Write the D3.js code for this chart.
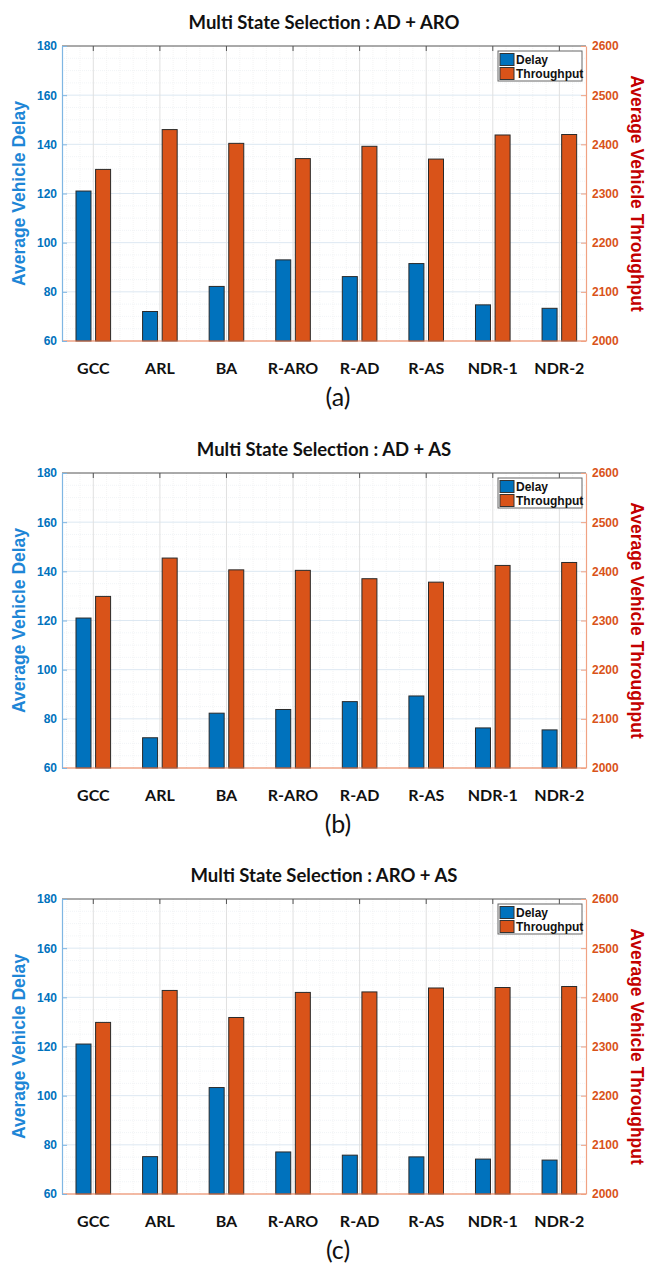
<!DOCTYPE html>
<html>
<head>
<meta charset="utf-8">
<script src="https://cdn.jsdelivr.net/npm/d3@7"></script>
<style>
  html, body { margin: 0; padding: 0; background: #fff; }
  svg { display: block; }
</style>
</head>
<body>
<div id="chart"></div>
<script>
// ---------------- DATA ----------------
const categories = ["GCC", "ARL", "BA", "R-ARO", "R-AD", "R-AS", "NDR-1", "NDR-2"];
const panelTitles = [
  "Multi State Selection : AD + ARO",
  "Multi State Selection : AD + AS",
  "Multi State Selection : ARO + AS"
];
const panelLabels = ["(a)", "(b)", "(c)"];
const seriesNames = ["Delay", "Throughput"];

const delayA = [121, 72, 82.2, 93, 86.2, 91.5, 74.7, 73.3];
const throughputA = [2349, 2430, 2402, 2371, 2396, 2370, 2419, 2420];

const delayB = [121, 72.3, 82.3, 83.8, 87, 89.3, 76.3, 75.5];
const throughputB = [2349, 2427, 2403, 2402, 2385, 2378, 2412, 2418];

const delayC = [121, 75.2, 103.3, 77.1, 75.8, 75.1, 74.2, 73.8];
const throughputC = [2349, 2414, 2359, 2410, 2411, 2419, 2420, 2422];

const leftTicks = [60, 80, 100, 120, 140, 160, 180];
const rightTicks = [2000, 2100, 2200, 2300, 2400, 2500, 2600];
const leftTitle = "Average Vehicle Delay";
const rightTitle = "Average Vehicle Throughput";

const panels = [
  { title: panelTitles[0], label: panelLabels[0], delay: delayA, thr: throughputA },
  { title: panelTitles[1], label: panelLabels[1], delay: delayB, thr: throughputB },
  { title: panelTitles[2], label: panelLabels[2], delay: delayC, thr: throughputC }
];

// ---------------- LAYOUT ----------------
const W = 648, H = 1264;
const panelOffsets = [0, 427, 853];
const plotL = 62, plotR = 586, plotT = 46, plotB = 341;
const blue = "#0072BD", orange = "#D95319";

const svg = d3.select("#chart").append("svg").attr("width", W).attr("height", H);

const x = d3.scaleLinear().domain([0.53, 8.4]).range([plotL, plotR]);
const yL = d3.scaleLinear().domain([60, 180]).range([plotB, plotT]);
const yR = d3.scaleLinear().domain([2000, 2600]).range([plotB, plotT]);
const barW = 15, barOff = 9.8;

panels.forEach((p, i) => {
  const g = svg.append("g").attr("transform", `translate(0,${panelOffsets[i]})`);

  g.append("rect").attr("x", plotL).attr("y", plotT)
    .attr("width", plotR - plotL).attr("height", plotB - plotT).attr("fill", "#fff");

  // minor grid
  const minorY = d3.range(60, 181, 5).filter(v => v % 20 !== 0);
  g.append("g").selectAll("line").data(minorY).join("line")
    .attr("x1", plotL).attr("x2", plotR)
    .attr("y1", d => yL(d)).attr("y2", d => yL(d))
    .attr("stroke", "#eef1f5").attr("stroke-width", 0.8).attr("stroke-dasharray", "1,1");
  const minorX = d3.range(0.6, 8.4, 0.2).filter(v => Math.abs(v - Math.round(v)) > 0.05);
  g.append("g").selectAll("line").data(minorX).join("line")
    .attr("x1", d => x(d)).attr("x2", d => x(d))
    .attr("y1", plotT).attr("y2", plotB)
    .attr("stroke", "#f0f0f0").attr("stroke-width", 0.8).attr("stroke-dasharray", "1,1");

  // major grid
  g.append("g").selectAll("line").data(leftTicks.slice(1, -1)).join("line")
    .attr("x1", plotL).attr("x2", plotR)
    .attr("y1", d => yL(d)).attr("y2", d => yL(d))
    .attr("stroke", "#dde8f2").attr("stroke-width", 1);
  g.append("g").selectAll("line").data(categories).join("line")
    .attr("x1", (d, j) => x(j + 1)).attr("x2", (d, j) => x(j + 1))
    .attr("y1", plotT).attr("y2", plotB)
    .attr("stroke", "#e0e0e0").attr("stroke-width", 1);

  // bars
  g.append("g").selectAll("rect").data(p.delay).join("rect")
    .attr("x", (d, j) => x(j + 1) - barOff - barW / 2)
    .attr("y", d => yL(d))
    .attr("width", barW)
    .attr("height", d => plotB - yL(d))
    .attr("fill", blue).attr("stroke", "#2a2a2a").attr("stroke-width", 1);
  g.append("g").selectAll("rect").data(p.thr).join("rect")
    .attr("x", (d, j) => x(j + 1) + barOff - barW / 2)
    .attr("y", d => yR(d))
    .attr("width", barW)
    .attr("height", d => plotB - yR(d))
    .attr("fill", orange).attr("stroke", "#2a2a2a").attr("stroke-width", 1);

  // top border with category ticks
  g.append("line").attr("x1", plotL).attr("x2", plotR).attr("y1", plotT).attr("y2", plotT)
    .attr("stroke", "#555").attr("stroke-width", 1);
  g.append("g").selectAll("line").data(categories).join("line")
    .attr("x1", (d, j) => x(j + 1)).attr("x2", (d, j) => x(j + 1))
    .attr("y1", plotT).attr("y2", plotT + 5)
    .attr("stroke", "#555").attr("stroke-width", 1);

  // bottom axis line
  g.append("line").attr("x1", plotL).attr("x2", plotR).attr("y1", plotB).attr("y2", plotB)
    .attr("stroke", "#e8764a").attr("stroke-width", 1.2);

  // left axis
  const axL = g.append("g").attr("transform", `translate(${plotL},0)`)
    .call(d3.axisLeft(yL).tickValues(leftTicks).tickFormat(d3.format("d"))
      .tickSize(-5).tickPadding(5).tickSizeOuter(0));
  axL.select(".domain").attr("stroke", "#7fb6e3").attr("stroke-width", 1.2);
  axL.selectAll(".tick line").attr("stroke", "#7fb6e3");
  axL.selectAll(".tick text").attr("fill", blue)
    .style("font-family", "Arial, 'Liberation Sans', sans-serif")
    .style("font-size", "12px").style("font-weight", "bold");

  // right axis
  const axR = g.append("g").attr("transform", `translate(${plotR},0)`)
    .call(d3.axisRight(yR).tickValues(rightTicks).tickFormat(d3.format("d"))
      .tickSize(-5).tickPadding(6).tickSizeOuter(0));
  axR.select(".domain").attr("stroke", "#f0a283").attr("stroke-width", 1.2);
  axR.selectAll(".tick line").attr("stroke", "#f0a283");
  axR.selectAll(".tick text").attr("fill", orange)
    .style("font-family", "Arial, 'Liberation Sans', sans-serif")
    .style("font-size", "12px").style("font-weight", "bold");

  // category labels
  g.append("g").selectAll("text").data(categories).join("text")
    .attr("x", (d, j) => x(j + 1))
    .attr("y", 367)
    .attr("text-anchor", "middle").attr("dominant-baseline", "central")
    .style("font-family", "Lato, 'Open Sans', sans-serif")
    .style("font-size", "16px").style("font-weight", "bold")
    .attr("fill", "#111").text(d => d);

  // title
  g.append("text").attr("x", (plotL + plotR) / 2).attr("y", 22)
    .attr("text-anchor", "middle").attr("dominant-baseline", "central")
    .style("font-family", "Lato, 'Open Sans', sans-serif")
    .style("font-size", "18.5px").style("font-weight", "bold")
    .attr("fill", "#111").text(p.title);

  // axis titles
  const cy = (plotT + plotB) / 2;
  g.append("text").attr("transform", `translate(19,${cy}) rotate(-90)`)
    .attr("text-anchor", "middle").attr("dominant-baseline", "central")
    .style("font-family", "Arial, 'Liberation Sans', sans-serif")
    .style("font-size", "17.5px").style("font-weight", "bold")
    .attr("fill", "#1e86d6").text(leftTitle);
  g.append("text").attr("transform", `translate(637,${cy}) rotate(90)`)
    .attr("text-anchor", "middle").attr("dominant-baseline", "central")
    .style("font-family", "Arial, 'Liberation Sans', sans-serif")
    .style("font-size", "17.5px").style("font-weight", "bold")
    .attr("fill", "#c30000").text(rightTitle);

  // panel label
  g.append("text").attr("x", (plotL + plotR) / 2 + 14).attr("y", 396)
    .attr("text-anchor", "middle").attr("dominant-baseline", "central")
    .style("font-family", "Lato, 'Open Sans', sans-serif")
    .style("font-size", "25px")
    .attr("fill", "#111").text(p.label);

  // legend
  const lg = g.append("g").attr("transform", "translate(498,51)");
  lg.append("rect").attr("width", 84).attr("height", 30)
    .attr("fill", "#fff").attr("stroke", "#666").attr("stroke-width", 1);
  [blue, orange].forEach((c, k) => {
    lg.append("rect").attr("x", 2).attr("y", 2.5 + k * 14).attr("width", 14).attr("height", 12)
      .attr("fill", c).attr("stroke", "#333").attr("stroke-width", 1);
    lg.append("text").attr("x", 18).attr("y", 9 + k * 14)
      .attr("dominant-baseline", "central")
      .style("font-family", "'Liberation Sans Narrow', 'Arial Narrow', sans-serif")
      .style("font-size", "12px").style("font-weight", "bold")
      .attr("fill", "#111").text(seriesNames[k]);
  });
});
</script>
</body>
</html>
